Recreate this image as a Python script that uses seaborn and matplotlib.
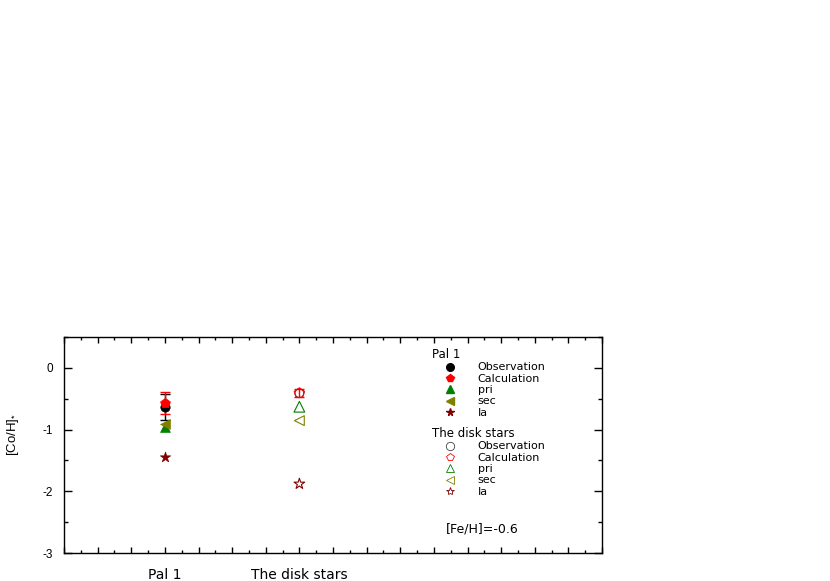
import matplotlib
matplotlib.use("Agg")
import matplotlib.pyplot as plt
from matplotlib.lines import Line2D
from matplotlib.ticker import MultipleLocator
import seaborn as sns
import pandas as pd

# ---- data ----
groups = ["Pal 1", "The disk stars"]
group_x = [6, 14]
series = ["Observation", "Calculation", "pri", "sec", "Ia"]
pal1_values = [-0.64, -0.57, -0.96, -0.91, -1.45]
pal1_errors = [0.21, 0.175, 0.0, 0.0, 0.0]
disk_values = [-0.41, -0.41, -0.63, -0.855, -1.88]
disk_errors = [0.0, 0.06, 0.0, 0.0, 0.0]
y_ticks = [0, -1, -2, -3]
annotation = "[Fe/H]=-0.6"

markers = ["o", "p", "^", "<", "*"]
colors = ["#000000", "#ff0000", "#008000", "#808000", "#800000"]
sizes_filled = [45, 55, 50, 50, 60]
sizes_open = [40, 60, 60, 50, 65]

sns.set_style("ticks")
plt.rcParams["font.family"] = ["DejaVu Sans"]
plt.rcParams["mathtext.fontset"] = "custom"
plt.rcParams["mathtext.rm"] = "Liberation Sans"
plt.rcParams["mathtext.it"] = "Liberation Sans"
for k in ["text.color", "axes.labelcolor", "xtick.color", "ytick.color", "axes.edgecolor"]:
    plt.rcParams[k] = "black"

fig = plt.figure(figsize=(8.3, 5.81), dpi=100)
ax = fig.add_axes([64 / 830, (581 - 553) / 581, 538 / 830, 216 / 581])

# error bars
for vals, errs, gx in [(pal1_values, pal1_errors, group_x[0]), (disk_values, disk_errors, group_x[1])]:
    for i in [0, 1]:
        if errs[i] > 0:
            ax.errorbar([gx], [vals[i]], yerr=[errs[i]], fmt="none", ecolor=colors[i],
                        elinewidth=1.0, capsize=3.5, capthick=1.0, zorder=2)

# Pal 1 filled markers
for i, s in enumerate(series):
    df = pd.DataFrame({"x": [group_x[0]], "y": [pal1_values[i]]})
    sns.scatterplot(data=df, x="x", y="y", marker=markers[i], s=sizes_filled[i],
                    color=colors[i], edgecolor=colors[i], linewidth=0.5, ax=ax, zorder=3)

# disk stars open markers
for i, s in enumerate(series):
    df = pd.DataFrame({"x": [group_x[1]], "y": [disk_values[i]]})
    sns.scatterplot(data=df, x="x", y="y", marker=markers[i], s=sizes_open[i],
                    facecolor="none", edgecolor=colors[i] if i > 0 else "#444444",
                    linewidth=0.8, ax=ax, zorder=3)

ax.set_xlim(0, 32)
ax.set_ylim(-3, 0.5)
ax.xaxis.set_minor_locator(MultipleLocator(1))
ax.xaxis.set_major_locator(MultipleLocator(2))
ax.set_xticklabels([])
ax.set_yticks(y_ticks)
ax.set_yticklabels([str(t) for t in y_ticks], fontsize=8.5, family="Liberation Sans")
ax.yaxis.set_minor_locator(MultipleLocator(0.5))
ax.tick_params(which="major", direction="in", length=6, width=1, top=True, right=True, pad=8)
ax.tick_params(which="minor", direction="in", length=3, width=1, top=True, right=True)
ax.tick_params(axis="x", which="major", length=4)
ax.tick_params(axis="x", which="minor", length=2)
for gx, g in zip(group_x, groups):
    ax.text(gx, -0.1, g, transform=ax.get_xaxis_transform(), ha="center", va="center", fontsize=10)
for sp in ax.spines.values():
    sp.set_linewidth(1.0)
    sp.set_color("black")
ax.set_xlabel("")
ax.set_ylabel(r"[Co/H]$_{*}$", fontsize=9.5, family="Liberation Sans")
ax.yaxis.set_label_coords(-0.08, 0.55)

# legends
def make_handles(filled):
    hs = []
    for i, s in enumerate(series):
        if filled:
            h = Line2D([], [], linestyle="none", marker=markers[i], markersize=5.5,
                       markerfacecolor=colors[i], markeredgecolor=colors[i], label=s)
        else:
            h = Line2D([], [], linestyle="none", marker=markers[i], markersize=6,
                       markerfacecolor="none", markeredgecolor=colors[i] if i > 0 else "#444444",
                       markeredgewidth=0.6, label=s)
        hs.append(h)
    return hs

common = dict(frameon=False, fontsize=8, title_fontsize=8.5, loc="upper left",
              handlelength=3.2, handletextpad=0.9, labelspacing=0.12, borderpad=0,
              borderaxespad=0, alignment="left", handleheight=0.5)
leg1 = ax.legend(handles=make_handles(True), title=groups[0],
                 bbox_to_anchor=((432 - 64) / 538, (553 - 348) / 216), **common)
ax.add_artist(leg1)
leg2 = ax.legend(handles=make_handles(False), title=groups[1],
                 bbox_to_anchor=((432 - 64) / 538, (553 - 427) / 216), **common)

fig.text(446 / 830, 1 - 529 / 581, annotation, fontsize=9, ha="left", va="center")

fig.savefig("out.png", dpi=100)
